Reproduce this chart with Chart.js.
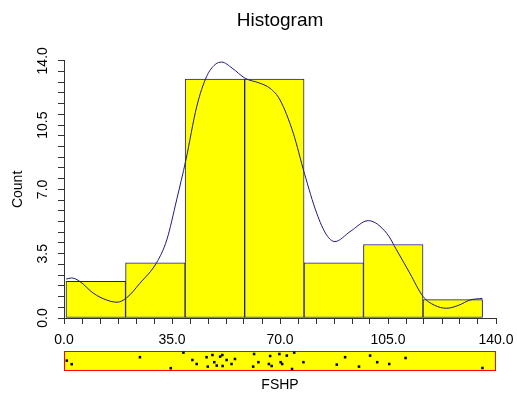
<!DOCTYPE html>
<html>
<head>
<meta charset="utf-8">
<script src="https://cdn.jsdelivr.net/npm/chart.js@4.4.1/dist/chart.umd.min.js"></script>
<style>
  html, body { margin: 0; padding: 0; background: #fff; }
  #wrap { position: relative; width: 517px; height: 399px; }
  #histChart { position: absolute; left: 0; top: 0; }
  #rugChart { position: absolute; left: 0; top: 345px; }
</style>
</head>
<body>
<div id="wrap">
  <canvas id="histChart" width="517" height="399"></canvas>
  <canvas id="rugChart" width="517" height="54"></canvas>
</div>
<script>
// ——— Histogram of FSHP with density curve and rug strip ———

// Histogram bins (mid points) and counts
const binMids = [10.3, 29.6, 48.9, 68.2, 87.4, 106.7, 126.0];
const binCounts = [2, 3, 13, 13, 3, 4, 1];

// Density curve (scaled to counts)
const densityX = [0.7, 2.5, 5.2, 9.5, 13.8, 17.2, 20.3, 24.6, 30.0, 33.3, 36.5, 39.5, 43.0, 46.2, 49.0, 51.1,
  54.5, 58.7, 63.5, 66.8, 70.0, 74.3, 77.9, 81.9, 85.1, 87.8, 92.7, 98.6, 104.6, 107.8, 112.1, 116.4,
  120.0, 124.0, 128.0, 131.6, 135.6];
const densityY = [2.12, 2.18, 1.98, 1.35, 0.98, 0.86, 1.1, 1.89, 3.01, 4.25, 6.43, 8.6, 11.5, 13.14, 13.8, 13.93,
  13.6, 13.05, 12.78, 12.5, 11.87, 10.06, 7.88, 5.7, 4.52, 4.16, 4.7, 5.3, 4.61, 3.7, 2.43, 1.16,
  0.7, 0.53, 0.7, 0.98, 1.07];

// Raw observations (rug) and their vertical jitter inside the strip (0 = bottom, 1 = top)
const rugX = [0.9, 2.5, 24.6, 34.6, 38.7, 41.6, 43.0, 46.2, 46.6, 48.1, 48.7, 49.5, 50.6, 51.3, 51.4, 52.7,
  54.3, 55.4, 61.3, 61.6, 63.0, 66.4, 66.8, 67.3, 69.8, 70.2, 70.7, 72.2, 73.9, 74.6, 77.6, 88.4,
  91.1, 95.6, 99.2, 101.5, 105.4, 110.7, 135.6];
const rugJitter = [0.52, 0.34, 0.69, 0.14, 0.92, 0.55, 0.35, 0.69, 0.22, 0.80, 0.44, 0.27, 0.72, 0.80, 0.25, 0.55,
  0.35, 0.60, 0.22, 0.85, 0.44, 0.35, 0.75, 0.25, 0.85, 0.44, 0.35, 0.77, 0.10, 0.92, 0.44, 0.32,
  0.69, 0.22, 0.77, 0.44, 0.35, 0.65, 0.15];

// Axis settings
const X_MIN = 0, X_MAX = 140, X_MAJOR = 35;
const Y_MIN = 0, Y_MAX = 14, Y_MAJOR = 3.5;
const MINOR_DIV = 6;

const FONT = "'Liberation Sans', Arial, sans-serif";
const AXIS_COLOR = "#333";

// only label the major ticks, minor ones stay blank
function majorLabel(step) {
  return function (v) {
    const k = v / step;
    return Math.abs(k - Math.round(k)) < 1e-6 ? Number(v).toFixed(1) : "";
  };
}

new Chart(document.getElementById("histChart"), {
  type: "bar",
  data: {
    datasets: [
      {
        type: "line",
        data: densityX.map((x, i) => ({ x, y: densityY[i] })),
        borderColor: "#1a1a80",
        borderWidth: 1,
        pointRadius: 0,
        cubicInterpolationMode: "monotone",
        fill: false,
        order: 0
      },
      {
        type: "bar",
        data: binMids.map((x, i) => ({ x, y: binCounts[i] })),
        backgroundColor: "#ffff00",
        borderColor: "#1c1c86",
        borderWidth: 1,
        borderSkipped: false,
        barThickness: "flex",
        categoryPercentage: 1,
        barPercentage: 1,
        order: 1
      }
    ]
  },
  options: {
    responsive: false,
    animation: false,
    layout: { padding: { left: 0, right: 21, top: 0, bottom: 0 } },
    plugins: {
      legend: { display: false },
      tooltip: { enabled: false },
      title: {
        display: true,
        text: "Histogram",
        fullSize: false,
        color: "#000",
        font: { family: FONT, size: 19, weight: "normal" },
        padding: { top: 9, bottom: 29 }
      }
    },
    scales: {
      x: {
        type: "linear",
        min: X_MIN,
        max: X_MAX,
        offset: false,
        grid: { offset: false, drawOnChartArea: false, tickLength: 6, tickColor: AXIS_COLOR },
        border: { color: AXIS_COLOR },
        ticks: {
          stepSize: X_MAJOR / MINOR_DIV,
          autoSkip: false,
          maxTicksLimit: 100,
          minRotation: 0,
          maxRotation: 0,
          padding: 8,
          color: "#000",
          font: { family: FONT, size: 14 },
          callback: majorLabel(X_MAJOR)
        },
        afterFit(scale) {
          scale.height = 81;
          scale.paddingLeft = 0;
          scale.paddingRight = 0;
        }
      },
      y: {
        type: "linear",
        min: Y_MIN,
        max: Y_MAX,
        grid: { drawOnChartArea: false, tickLength: 6, tickColor: AXIS_COLOR },
        border: { color: AXIS_COLOR },
        ticks: {
          stepSize: Y_MAJOR / MINOR_DIV,
          autoSkip: false,
          maxTicksLimit: 100,
          minRotation: 90,
          maxRotation: 90,
          crossAlign: "center",
          padding: 1,
          color: "#000",
          font: { family: FONT, size: 14 },
          callback: majorLabel(Y_MAJOR)
        },
        title: {
          display: true,
          text: "Count",
          color: "#000",
          font: { family: FONT, size: 14 },
          padding: { top: 10, bottom: 0 }
        },
        afterFit(scale) { scale.width = 64; }
      }
    }
  }
});

// yellow strip with red frame behind the rug points
const rugBox = {
  id: "rugBox",
  beforeDatasetsDraw(chart) {
    const { ctx, chartArea: a } = chart;
    ctx.save();
    ctx.fillStyle = "#ffff00";
    ctx.fillRect(a.left, a.top, a.right - a.left, a.bottom - a.top);
    ctx.strokeStyle = "#ff0000";
    ctx.lineWidth = 1;
    ctx.strokeRect(a.left + 0.5, a.top + 0.5, a.right - a.left - 1, a.bottom - a.top - 1);
    ctx.restore();
  }
};

new Chart(document.getElementById("rugChart"), {
  type: "scatter",
  data: {
    datasets: [{
      data: rugX.map((x, i) => ({ x, y: rugJitter[i] })),
      pointStyle: "rect",
      pointRadius: 1.8,
      backgroundColor: "#000",
      borderWidth: 0
    }]
  },
  options: {
    responsive: false,
    animation: false,
    layout: { padding: { left: 64, right: 21, top: 6, bottom: 0 } },
    plugins: { legend: { display: false }, tooltip: { enabled: false } },
    scales: {
      x: {
        type: "linear",
        min: X_MIN,
        max: X_MAX,
        grid: { display: false },
        border: { display: false },
        ticks: { display: false },
        title: {
          display: true,
          text: "FSHP",
          color: "#000",
          font: { family: FONT, size: 14 },
          padding: { top: 0, bottom: 5 }
        },
        afterFit(scale) {
          scale.height = 28;
          scale.paddingLeft = 0;
          scale.paddingRight = 0;
        }
      },
      y: { type: "linear", min: 0, max: 1, display: false }
    }
  },
  plugins: [rugBox]
});
</script>
</body>
</html>
